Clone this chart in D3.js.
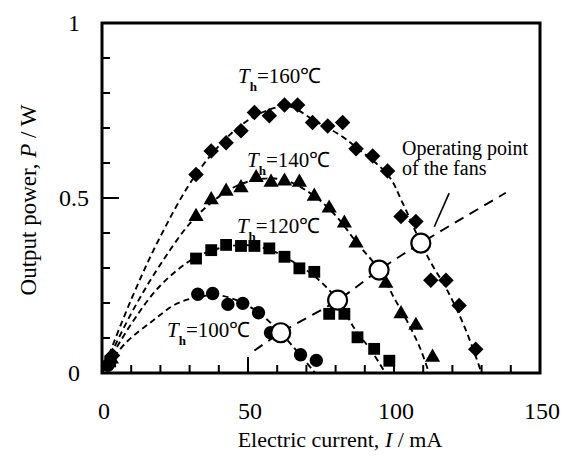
<!DOCTYPE html>
<meta charset="utf-8">
<script src="https://d3js.org/d3.v7.min.js"></script>
<style>
  body { margin: 0; background: #fff; }
  text { font-family: "Liberation Serif", "Times New Roman", serif; fill: #000; }
</style>
<div id="chart"></div>
<script>
// measured points [current mA, power W]
var th160 = [[3.6,0.05],[32.2,0.567],[37.4,0.634],[42.5,0.658],[47.6,0.692],[52.2,0.744],[57.3,0.735],
  [62.5,0.766],[67.0,0.766],[72.1,0.716],[77.3,0.706],[82.4,0.716],[87.0,0.641],[92.7,0.620],
  [97.8,0.577],[102.4,0.447],[107.5,0.433],[112.6,0.265],[117.8,0.265],[122.3,0.193],[128.0,0.068]];
var th140 = [[3.2,0.04],[32.2,0.447],[37.4,0.495],[42.5,0.519],[47.6,0.529],[52.8,0.558],[57.9,0.545],
  [62.5,0.548],[67.6,0.545],[72.7,0.505],[77.8,0.471],[83.0,0.428],[87.0,0.371],[97.2,0.256],
  [102.4,0.169],[107.5,0.136],[113.2,0.045]];
var th120 = [[2.8,0.033],[32.2,0.327],[37.4,0.351],[42.5,0.366],[47.6,0.363],[52.2,0.363],[57.3,0.356],
  [62.5,0.332],[67.6,0.299],[72.7,0.289],[77.8,0.169],[83.0,0.169],[87.5,0.102],[93.2,0.069],[98.4,0.035]];
var th100 = [[2.0,0.022],[32.8,0.225],[37.9,0.227],[43.1,0.196],[48.2,0.199],[53.6,0.172],[57.7,0.115],
  [68.0,0.052],[73.4,0.036]];

// fitted dashed curves
var fit160 = [[0,0],[10,0.21],[20,0.39],[32,0.565],[45,0.69],[55,0.745],[64,0.762],[72,0.725],[82,0.677],
  [87,0.645],[98,0.565],[103,0.485],[109.2,0.371],[113,0.31],[118,0.24],[124,0.135],[130,0]];
var fit140 = [[0,0],[10,0.17],[20,0.31],[32,0.445],[45,0.53],[55,0.555],[63,0.55],[72,0.51],[80,0.45],
  [87,0.375],[94.9,0.294],[100,0.215],[105,0.14],[109,0.07],[112,0]];
var fit120 = [[0,0],[10,0.14],[20,0.25],[32,0.33],[42,0.36],[50,0.365],[58,0.35],[66,0.315],[73,0.275],
  [80.7,0.208],[86.6,0.125],[92.4,0.062],[97,0]];
var fit100 = [[0,0],[8,0.085],[17.5,0.15],[25.6,0.198],[33.6,0.218],[40,0.222],[47,0.205],[54,0.17],
  [61.2,0.115],[67,0.06],[73,0]];

// operating points of the fans and load line
var opPoints = [[61.2,0.115],[80.7,0.208],[94.9,0.294],[109.2,0.371]];
var loadLine = [[52.2,0.064],[61.2,0.115],[80.7,0.208],[94.9,0.294],[109.2,0.371],[124,0.445],[138.3,0.515]];

var xTicks = [0, 50, 100, 150];
var yTicks = [0, 0.5, 1];
var yTickLabels = ["0", "0.5", "1"];
var xMinor = d3.range(10, 150, 10);
var yMinor = d3.range(1, 10).map(function(i) { return i / 10; });

var svg = d3.select("#chart").append("svg")
  .attr("width", 568)
  .attr("height", 459);

var x = d3.scaleLinear().domain([0, 150]).range([102, 540]);
var y = d3.scaleLinear().domain([0, 1]).range([373, 23]);

// frame drawn as a filled ring, ticks as filled slivers
var fw = 1.5;
var ring = d3.path();
ring.rect(x(0) - fw, y(1) - fw, x(150) - x(0) + 2 * fw, y(0) - y(1) + 2 * fw);
ring.rect(x(0) + fw, y(1) + fw, x(150) - x(0) - 2 * fw, y(0) - y(1) - 2 * fw);
xMinor.forEach(function(d) {
  var h = d === 50 ? 16 : 8;
  ring.rect(x(d) - 1, y(0) - h, 2, h - fw);
});
yMinor.forEach(function(d) {
  var w = Math.abs(d - 0.5) < 1e-6 ? 17 : 8;
  ring.rect(x(0) + fw, y(d) - 1, w - fw, 2);
});
svg.append("path")
  .attr("d", ring.toString())
  .attr("fill", "black")
  .attr("fill-rule", "evenodd");

// tick labels
svg.selectAll(".xl").data(xTicks).enter().append("text")
  .attr("x", function(d) { return x(d) + 2; })
  .attr("y", 419)
  .attr("text-anchor", "middle")
  .style("font-size", "24px")
  .text(function(d) { return d; });
svg.selectAll(".yl").data(yTicks).enter().append("text")
  .attr("x", 74)
  .attr("y", function(d) { return y(d) + 8; })
  .attr("text-anchor", "middle")
  .style("font-size", "24px")
  .text(function(d, i) { return yTickLabels[i]; });

// axis titles
var xt = svg.append("text").attr("x", 340).attr("y", 447).attr("text-anchor", "middle").style("font-size", "22px");
xt.append("tspan").text("Electric current, ");
xt.append("tspan").style("font-style", "italic").text("I");
xt.append("tspan").text(" / mA");
var yt = svg.append("text").attr("transform", "translate(36,200) rotate(-90)").attr("text-anchor", "middle").style("font-size", "23px");
yt.append("tspan").text("Output power, ");
yt.append("tspan").style("font-style", "italic").text("P");
yt.append("tspan").text(" / W");

// dashed fits
var line = d3.line()
  .x(function(d) { return x(d[0]); })
  .y(function(d) { return y(d[1]); })
  .curve(d3.curveCatmullRom);
[fit160, fit140, fit120, fit100].forEach(function(f) {
  svg.append("path").datum(f)
    .attr("d", line)
    .attr("fill", "none")
    .attr("stroke", "black")
    .attr("stroke-width", 1.9)
    .attr("stroke-dasharray", "6,4");
});
svg.append("path").datum(loadLine)
  .attr("d", line)
  .attr("fill", "none")
  .attr("stroke", "black")
  .attr("stroke-width", 1.9)
  .attr("stroke-dasharray", "10,7");

// markers
function marks(data, type, size, rot) {
  svg.append("g").selectAll("path").data(data).enter().append("path")
    .attr("d", d3.symbol().type(type).size(size))
    .attr("transform", function(d) { return "translate(" + x(d[0]) + "," + y(d[1]) + ") rotate(" + rot + ")"; })
    .attr("fill", "black");
}
marks(th160, d3.symbolSquare, 120, 45);
marks(th140, d3.symbolTriangle, 100, 0);
marks(th120, d3.symbolSquare, 140, 0);
marks(th100, d3.symbolCircle, 140, 0);

svg.append("g").selectAll("circle").data(opPoints).enter().append("circle")
  .attr("cx", function(d) { return x(d[0]); })
  .attr("cy", function(d) { return y(d[1]); })
  .attr("r", 9.5)
  .attr("fill", "white")
  .attr("stroke", "black")
  .attr("stroke-width", 2.2);

// temperature labels
var tLabels = [
  {t: "160", i: 46.6, p: 0.829},
  {t: "140", i: 49.7, p: 0.589},
  {t: "120", i: 46.2, p: 0.40},
  {t: "100", i: 22.3, p: 0.103}
];
tLabels.forEach(function(l) {
  var t = svg.append("text").attr("x", x(l.i)).attr("y", y(l.p)).style("font-size", "21px");
  t.append("tspan").style("font-style", "italic").text("T");
  t.append("tspan").attr("dy", 8).style("font-size", "13px").style("font-weight", "bold").text("h");
  t.append("tspan").attr("dy", -8).text("=" + l.t + "\u2103");
});

// annotation
svg.append("text").attr("x", 402).attr("y", 155).style("font-size", "20px").text("Operating point");
svg.append("text").attr("x", 402).attr("y", 175).style("font-size", "20px").text("of the fans");
svg.append("line")
  .attr("x1", x(113.8)).attr("y1", y(0.418))
  .attr("x2", x(118.9)).attr("y2", y(0.514))
  .attr("stroke", "black").attr("stroke-width", 1.6);
</script>
